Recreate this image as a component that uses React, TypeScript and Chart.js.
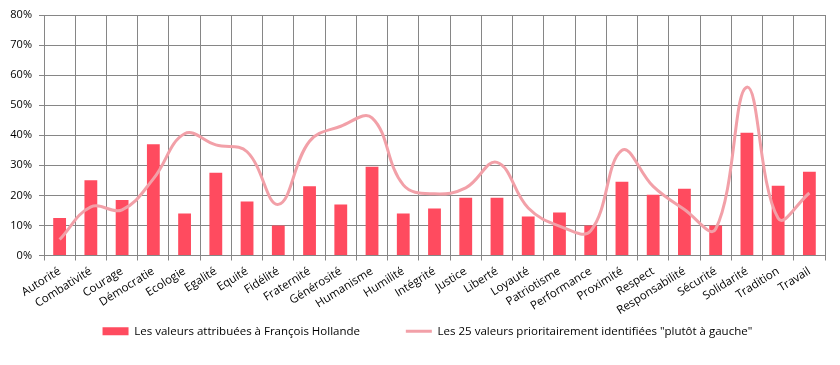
import React, { useEffect, useRef } from "react";
import { Chart, registerables } from "chart.js";

Chart.register(...registerables);

const categories = [
  "Autorité", "Combativité", "Courage", "Démocratie", "Ecologie", "Egalité",
  "Equité", "Fidélité", "Fraternité", "Générosité", "Humanisme", "Humilité",
  "Intégrité", "Justice", "Liberté", "Loyauté", "Patriotisme", "Performance",
  "Proximité", "Respect", "Responsabilité", "Sécurité", "Solidarité", "Tradition", "Travail",
];

const hollandeValues = [
  12.5, 25, 18.5, 37, 14, 27.5, 18, 10, 23, 17, 29.5, 14,
  15.6, 19.2, 19.2, 13, 14.3, 10, 24.5, 20.2, 22.2, 10, 40.8, 23.2, 27.9,
];

const gaucheValues = [
  5.3, 16.2, 15.2, 25.5, 40.5, 36.8, 34.5, 17, 38, 43, 45.8, 23.5,
  20.5, 22.5, 31, 15.8, 9.8, 8.2, 35, 23, 15.3, 8.8, 56, 12.4, 20.8,
];

const seriesLabels = [
  "Les valeurs attribuées à François Hollande",
  "Les 25 valeurs prioritairement identifiées \"plutôt à gauche\"",
];

const yMin = 0;
const yMax = 80;
const yStep = 10;

const FONT = "'Open Sans', sans-serif";
const GAP = "\u00A0".repeat(12);
const TAIL = "\u00A0".repeat(21);

export default function App() {
  const ref = useRef<HTMLCanvasElement>(null);

  useEffect(() => {
    document.body.style.margin = "0";
    const canvas = ref.current;
    if (!canvas) return;
    const chart = new Chart(canvas, {
      type: "bar",
      data: {
        labels: categories,
        datasets: [
          {
            type: "bar",
            label: seriesLabels[0],
            data: hollandeValues,
            backgroundColor: "#FF4B5F",
            borderWidth: 0,
            categoryPercentage: 1,
            barPercentage: 0.41,
            order: 1,
          } as any,
          {
            type: "line",
            label: seriesLabels[1],
            data: gaucheValues,
            borderColor: "#F2A0A8",
            backgroundColor: "#F2A0A8",
            borderWidth: 3,
            pointRadius: 0,
            tension: 0.4,
            fill: false,
            order: 0,
          } as any,
        ],
      },
      options: {
        responsive: false,
        animation: false,
        layout: { padding: { top: 15, right: 15, left: 8, bottom: 18 } },
        plugins: {
          tooltip: { enabled: false },
          legend: {
            position: "bottom",
            align: "end",
            labels: {
              font: { family: FONT, size: 11.5 },
              color: "#000",
              usePointStyle: true,
              pointStyleWidth: 26,
              boxHeight: 8,
              padding: 10,
              generateLabels: (c: any) => {
                const items = Chart.defaults.plugins.legend.labels.generateLabels(c);
                items.sort((a: any, b: any) => a.datasetIndex - b.datasetIndex);
                return items.map((it: any) => ({
                  ...it,
                  text: it.datasetIndex === 0 ? it.text + GAP : it.text + TAIL,
                  pointStyle: it.datasetIndex === 0 ? "rect" : "line",
                  lineWidth: it.datasetIndex === 0 ? 0 : 3,
                }));
              },
            },
          },
        },
        scales: {
          x: {
            grid: { color: "#868686", lineWidth: 1, tickLength: 5, offset: true },
            border: { color: "#868686" },
            ticks: {
              font: { family: FONT, size: 11.5 },
              color: "#000",
              minRotation: 32,
              maxRotation: 32,
              autoSkip: false,
              padding: 4,
            },
            afterFit: (s: any) => { s.height = 60; },
          },
          y: {
            min: yMin,
            max: yMax,
            grid: { color: "#868686", lineWidth: 1, tickLength: 5 },
            border: { color: "#868686" },
            ticks: {
              stepSize: yStep,
              font: { family: FONT, size: 11 },
              color: "#000",
              padding: 7,
              callback: (v: any) => v + "%",
            },
            afterFit: (s: any) => { s.width = 36; },
          },
        },
      },
    });
    return () => chart.destroy();
  }, []);

  return <canvas ref={ref} width={840} height={365} style={{ display: "block" }} />;
}
